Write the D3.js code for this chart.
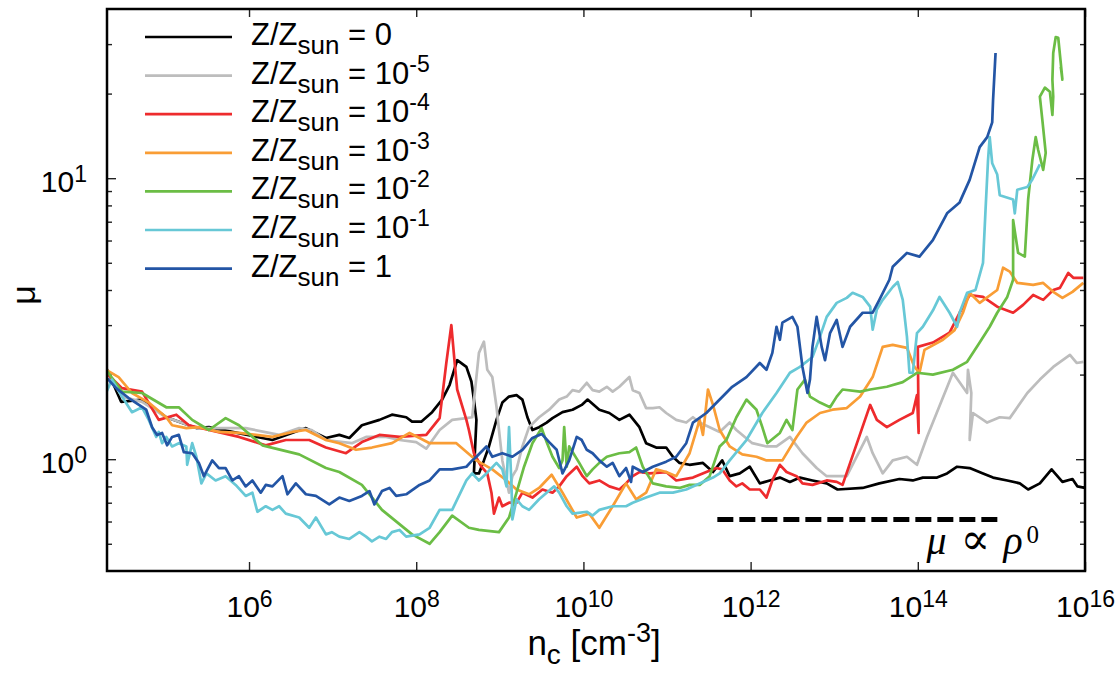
<!DOCTYPE html>
<html>
<head>
<meta charset="utf-8">
<script src="https://cdn.jsdelivr.net/npm/d3@7"></script>
<style>
body { margin: 0; background: #fff; }
text { font-family: "Liberation Sans", Arial, sans-serif; fill: #000; }
</style>
</head>
<body>
<script>
// points are [log10(n_c), mu]
var zSun0 = [[4.29,2.12],[4.47,1.60],[4.72,1.63],[5.01,1.41],[5.37,1.29],[5.52,1.30],[5.80,1.25],[6.28,1.17],[6.68,1.29],[6.92,1.19],[7.08,1.22],[7.20,1.19],[7.35,1.32],[7.56,1.38],[7.71,1.44],[7.88,1.41],[7.95,1.36],[8.06,1.36],[8.19,1.47],[8.31,1.63],[8.40,1.84],[8.49,2.25],[8.60,2.13],[8.66,1.89],[8.69,1.63],[8.72,1.38],[8.69,0.89],[8.75,0.89],[8.81,0.99],[8.87,1.11],[8.96,1.38],[9.03,1.59],[9.11,1.67],[9.20,1.69],[9.27,1.63],[9.33,1.41],[9.39,1.27],[9.47,1.30],[9.56,1.35],[9.63,1.40],[9.75,1.47],[9.87,1.50],[9.98,1.56],[10.05,1.63],[10.19,1.50],[10.31,1.46],[10.43,1.38],[10.55,1.44],[10.67,1.30],[10.75,1.14],[10.87,1.10],[10.99,1.10],[11.07,1.02],[11.15,0.97],[11.27,0.955],[11.43,0.97],[11.55,0.90],[11.66,0.99],[11.75,0.87],[11.87,0.89],[11.99,0.94],[12.11,0.82],[12.23,0.84],[12.35,0.86],[12.47,0.83],[12.59,0.86],[12.74,0.84],[12.91,0.82],[13.04,0.78],[13.34,0.79],[13.54,0.82],[13.78,0.85],[13.94,0.84],[14.06,0.86],[14.23,0.86],[14.35,0.89],[14.47,0.94],[14.62,0.93],[14.78,0.89],[14.90,0.86],[15.07,0.84],[15.22,0.82],[15.32,0.78],[15.46,0.82],[15.60,0.92],[15.73,0.83],[15.85,0.85],[15.91,0.80],[16.0,0.79]];

var zSun1e5 = [[4.29,2.08],[4.48,1.67],[4.72,1.60],[5.01,1.41],[5.37,1.29],[5.64,1.29],[5.96,1.29],[6.36,1.22],[6.60,1.29],[6.75,1.27],[6.92,1.17],[7.23,1.14],[7.40,1.20],[7.64,1.20],[7.80,1.17],[8.00,1.15],[8.12,1.09],[8.28,1.27],[8.43,1.38],[8.60,1.40],[8.67,1.41],[8.75,2.39],[8.81,2.62],[8.85,2.08],[8.91,1.96],[8.96,1.54],[8.99,1.27],[9.03,0.99],[9.08,0.84],[9.11,0.76],[9.15,0.87],[9.20,0.92],[9.27,1.11],[9.35,1.30],[9.47,1.41],[9.59,1.50],[9.71,1.63],[9.80,1.67],[9.87,1.76],[9.95,1.74],[10.04,1.87],[10.11,1.76],[10.19,1.74],[10.28,1.81],[10.35,1.74],[10.43,1.81],[10.55,1.96],[10.59,1.76],[10.67,1.72],[10.75,1.52],[10.83,1.52],[10.91,1.53],[10.99,1.46],[11.11,1.38],[11.23,1.35],[11.31,1.41],[11.39,1.35],[11.51,1.30],[11.63,1.25],[11.75,1.35],[11.83,1.27],[12.02,1.14],[12.19,1.11],[12.31,1.11],[12.47,1.20],[12.62,1.05],[12.79,0.93],[12.91,0.87],[13.15,0.87],[13.39,1.20],[13.46,1.05],[13.58,0.89],[13.70,0.99],[13.87,1.02],[13.99,0.955],[14.11,1.20],[14.42,2.03],[14.59,1.72],[14.60,2.08],[14.64,1.72],[14.62,1.17],[14.66,1.46],[14.83,1.35],[14.98,1.41],[15.10,1.40],[15.31,1.72],[15.46,1.92],[15.62,2.13],[15.82,2.35],[15.90,2.20],[15.98,2.22]];

var zSun1e4 = [[4.29,2.03],[4.48,1.79],[4.72,1.74],[4.92,1.38],[5.13,1.44],[5.28,1.32],[5.52,1.27],[5.88,1.20],[6.20,1.12],[6.44,1.17],[6.72,1.17],[6.92,1.10],[7.16,1.05],[7.35,1.15],[7.56,1.22],[7.80,1.20],[8.12,1.22],[8.28,1.40],[8.36,2.20],[8.42,3.0],[8.46,2.20],[8.49,1.77],[8.60,1.38],[8.63,1.27],[8.69,1.05],[8.78,0.94],[8.85,0.89],[8.90,0.76],[8.93,0.64],[8.99,0.73],[9.03,0.68],[9.11,0.70],[9.20,0.70],[9.27,0.76],[9.39,0.73],[9.51,0.78],[9.63,0.76],[9.71,0.80],[9.80,0.87],[9.92,0.94],[9.99,0.87],[10.07,0.82],[10.19,0.84],[10.31,0.80],[10.43,0.78],[10.51,0.82],[10.59,0.87],[10.67,0.90],[10.79,0.89],[10.99,0.90],[11.11,0.84],[11.31,0.86],[11.47,0.90],[11.59,0.93],[11.66,0.92],[11.75,0.84],[11.83,0.80],[11.90,0.82],[11.99,0.78],[12.11,0.78],[12.19,0.73],[12.26,0.84],[12.35,0.955],[12.43,0.90],[12.55,0.87],[12.62,0.82],[12.74,0.81],[12.91,0.84],[13.03,0.83],[13.10,0.81],[13.43,1.56],[13.51,1.38],[13.63,1.30],[13.78,1.38],[13.94,1.46],[13.99,1.69],[14.01,1.24],[14.00,2.51],[14.18,2.60],[14.38,2.82],[14.50,3.32],[14.62,3.84],[14.78,3.78],[14.95,3.49],[15.14,3.32],[15.26,3.54],[15.38,3.84],[15.50,3.69],[15.62,4.0],[15.70,4.07],[15.80,4.6],[15.86,4.42],[15.98,4.42]];

var zSun1e3 = [[4.29,2.08],[4.44,1.96],[4.60,1.72],[4.80,1.59],[5.01,1.41],[5.08,1.32],[5.25,1.29],[5.40,1.30],[5.64,1.25],[5.88,1.24],[6.28,1.20],[6.52,1.25],[6.68,1.27],[6.92,1.17],[7.08,1.14],[7.28,1.08],[7.47,1.10],[7.71,1.14],[7.92,1.24],[8.04,1.19],[8.16,1.14],[8.28,1.14],[8.48,1.14],[8.72,0.99],[8.91,0.92],[9.08,0.84],[9.20,0.78],[9.35,0.75],[9.47,0.79],[9.62,0.88],[9.75,0.76],[9.92,0.62],[10.07,0.64],[10.19,0.57],[10.35,0.68],[10.51,0.82],[10.63,0.72],[10.75,0.76],[10.87,0.92],[10.99,0.90],[11.11,0.87],[11.27,1.05],[11.39,1.38],[11.43,1.22],[11.49,1.77],[11.55,1.56],[11.63,1.27],[11.75,1.11],[11.90,1.04],[12.07,1.02],[12.19,0.99],[12.38,0.99],[12.55,1.20],[12.67,1.35],[12.83,1.46],[12.98,1.50],[13.15,1.52],[13.31,1.67],[13.46,1.96],[13.58,2.51],[13.70,2.55],[13.87,2.49],[13.96,2.13],[14.02,2.03],[14.08,2.45],[14.30,2.66],[14.44,2.88],[14.54,3.32],[14.62,3.91],[14.74,3.60],[14.95,4.0],[15.02,4.8],[15.10,4.65],[15.19,4.24],[15.38,4.17],[15.50,4.24],[15.62,3.94],[15.73,3.75],[15.85,3.94],[15.98,4.24]];

var zSun1e2 = [[4.29,2.08],[4.48,1.74],[4.72,1.72],[5.01,1.53],[5.16,1.53],[5.32,1.38],[5.52,1.27],[5.72,1.40],[5.88,1.32],[6.16,1.12],[6.60,1.04],[6.92,0.93],[7.08,0.90],[7.35,0.81],[7.59,0.66],[7.95,0.54],[8.16,0.50],[8.28,0.55],[8.43,0.63],[8.63,0.57],[8.75,0.56],[8.99,0.55],[9.11,0.62],[9.20,0.76],[9.29,0.94],[9.39,1.14],[9.50,1.29],[9.56,1.15],[9.63,1.02],[9.71,0.93],[9.75,0.99],[9.77,1.30],[9.80,0.94],[9.83,1.11],[9.95,0.97],[10.04,0.87],[10.11,0.92],[10.19,0.97],[10.28,1.02],[10.43,1.05],[10.55,1.06],[10.63,1.10],[10.71,0.94],[10.83,0.82],[10.99,0.80],[11.15,0.79],[11.27,0.81],[11.39,0.81],[11.51,0.87],[11.63,1.11],[11.71,1.17],[11.83,1.41],[11.95,1.63],[12.07,1.50],[12.14,1.30],[12.20,1.14],[12.35,1.24],[12.43,1.38],[12.50,1.27],[12.56,1.77],[12.65,1.92],[12.71,1.67],[12.83,1.59],[12.95,1.53],[13.03,1.67],[13.10,1.77],[13.31,1.74],[13.43,1.77],[13.63,1.81],[13.82,1.88],[13.99,2.03],[14.18,2.0],[14.42,2.08],[14.59,2.22],[14.74,2.60],[14.86,2.96],[14.95,3.32],[15.07,3.78],[15.14,4.35],[15.14,7.1],[15.20,5.42],[15.28,5.26],[15.32,8.4],[15.37,11.6],[15.41,14.0],[15.44,12.6],[15.50,10.7],[15.53,12.3],[15.49,16.1],[15.46,19.5],[15.52,21.0],[15.58,20.3],[15.61,16.8],[15.62,19.5],[15.61,22.4],[15.62,27.9],[15.65,31.8],[15.68,31.6],[15.71,25.7],[15.73,22.4],[15.71,24.9]];

var zSun1e1 = [[4.29,1.72],[4.36,1.92],[4.48,1.67],[4.60,1.47],[4.72,1.53],[4.80,1.38],[4.89,1.20],[4.92,1.25],[4.96,1.14],[5.01,1.20],[5.08,1.11],[5.16,1.14],[5.25,1.11],[5.26,0.955],[5.32,1.14],[5.37,1.02],[5.43,0.82],[5.49,0.89],[5.60,0.84],[5.72,0.87],[5.84,0.81],[5.96,0.74],[6.04,0.76],[6.10,0.65],[6.20,0.68],[6.28,0.66],[6.36,0.68],[6.44,0.64],[6.60,0.62],[6.72,0.57],[6.80,0.62],[6.92,0.54],[6.99,0.55],[7.08,0.53],[7.20,0.52],[7.32,0.55],[7.40,0.53],[7.47,0.51],[7.56,0.53],[7.64,0.52],[7.71,0.55],[7.80,0.56],[7.88,0.53],[8.04,0.54],[8.16,0.57],[8.28,0.66],[8.43,0.66],[8.60,0.84],[8.67,0.89],[8.75,0.84],[8.84,0.89],[8.96,0.97],[9.03,0.92],[9.08,0.80],[9.11,1.30],[9.14,0.80],[9.15,0.61],[9.20,0.72],[9.27,0.68],[9.35,0.66],[9.47,0.72],[9.56,0.76],[9.65,0.80],[9.71,0.76],[9.80,0.68],[9.87,0.64],[10.04,0.65],[10.11,0.63],[10.19,0.66],[10.35,0.68],[10.51,0.68],[10.59,0.70],[10.75,0.73],[10.91,0.76],[11.07,0.76],[11.23,0.78],[11.39,0.82],[11.55,0.86],[11.63,0.89],[11.75,0.99],[11.95,1.17],[12.14,1.46],[12.31,1.72],[12.47,2.03],[12.59,2.13],[12.74,2.31],[12.83,2.73],[12.91,3.21],[13.03,3.60],[13.15,3.75],[13.22,3.91],[13.34,3.78],[13.43,3.49],[13.46,2.89],[13.51,3.41],[13.58,3.69],[13.70,4.10],[13.76,4.27],[13.82,3.69],[13.87,2.73],[13.90,2.03],[13.94,2.03],[13.99,2.81],[14.06,2.96],[14.18,3.38],[14.26,3.78],[14.38,3.32],[14.47,2.96],[14.50,3.32],[14.59,3.91],[14.69,4.0],[14.78,5.0],[14.81,7.7],[14.84,11.6],[14.86,14.0],[14.89,11.3],[14.95,10.3],[14.98,8.7],[15.14,8.4],[15.16,7.5],[15.19,9.1],[15.31,9.3],[15.37,9.9],[15.46,11.2]];

var zSun1 = [[4.29,1.96],[4.41,1.79],[4.56,1.65],[4.77,1.50],[4.84,1.30],[4.90,1.22],[4.96,1.24],[5.02,1.12],[5.08,1.20],[5.16,1.22],[5.22,1.06],[5.32,1.05],[5.40,0.97],[5.46,0.87],[5.56,0.99],[5.64,0.93],[5.72,0.93],[5.80,0.84],[5.88,0.87],[5.96,0.80],[6.04,0.84],[6.14,0.76],[6.20,0.81],[6.28,0.80],[6.40,0.87],[6.46,0.75],[6.56,0.82],[6.68,0.75],[6.80,0.74],[6.96,0.69],[7.08,0.73],[7.20,0.71],[7.35,0.74],[7.44,0.77],[7.50,0.69],[7.59,0.77],[7.68,0.79],[7.76,0.74],[7.88,0.75],[8.04,0.81],[8.16,0.84],[8.28,0.92],[8.43,0.92],[8.60,0.94],[8.67,0.99],[8.72,1.02],[8.84,1.11],[8.91,1.02],[9.03,1.05],[9.15,1.02],[9.27,1.08],[9.39,1.19],[9.50,1.23],[9.59,1.15],[9.68,1.08],[9.75,0.89],[9.83,0.99],[9.92,1.20],[9.98,1.17],[10.04,1.08],[10.11,1.05],[10.19,0.99],[10.28,0.94],[10.35,0.97],[10.43,0.87],[10.51,0.93],[10.57,0.83],[10.59,0.94],[10.71,0.90],[10.83,0.94],[10.99,0.98],[11.11,1.02],[11.23,1.14],[11.31,1.35],[11.47,1.46],[11.63,1.63],[11.78,1.81],[11.95,1.96],[12.11,2.20],[12.19,2.08],[12.26,2.39],[12.31,2.96],[12.35,2.66],[12.38,3.06],[12.50,3.21],[12.56,2.96],[12.62,2.13],[12.68,1.72],[12.71,1.92],[12.74,2.51],[12.79,3.21],[12.85,2.51],[12.89,2.25],[12.95,2.81],[13.03,3.13],[13.10,2.51],[13.19,2.96],[13.34,3.32],[13.46,3.32],[13.54,3.69],[13.66,4.35],[13.70,4.84],[13.87,5.42],[14.02,5.26],[14.18,6.02],[14.35,7.5],[14.50,8.2],[14.62,9.86],[14.74,12.9],[14.83,14.0],[14.89,15.8],[14.90,18.9],[14.93,27.9]];

var seriesData = [zSun0, zSun1e5, zSun1e4, zSun1e3, zSun1e2, zSun1e1, zSun1];
var seriesExp = [null, "-5", "-4", "-3", "-2", "-1", null];   // superscript of 10
var seriesValue = ["0", "10", "10", "10", "10", "10", "1"];
var seriesColors = ["#000000", "#bdbdbd", "#ee2b2d", "#f99d35", "#6bbd45", "#67c8d6", "#2355a5"];

var xTickExp = [6, 8, 10, 12, 14, 16];
var yMajorExp = [0, 1];
var yMinor = [0.5, 0.6, 0.7, 0.8, 0.9, 2, 3, 4, 5, 6, 7, 8, 9, 20, 30];

// mu ∝ rho^0 guide
var refN = [4e11, 1e15];
var refMu = 0.61;

var margin = { top: 9, right: 33, bottom: 105, left: 107 },
    width = 1118 - margin.left - margin.right,
    height = 676 - margin.top - margin.bottom;

var svg = d3.select("body").append("svg")
    .attr("width", 1118)
    .attr("height", 676);

var g = svg.append("g")
    .attr("transform", "translate(" + margin.left + "," + margin.top + ")");

var x = d3.scaleLog().domain([2e4, 1e16]).range([0, width]);
var y = d3.scaleLog().domain([0.4, 40]).range([height, 0]);

g.append("clipPath").attr("id", "clip")
    .append("rect").attr("width", width).attr("height", height);

// label helper: "10" with a raised exponent
function powLabel(sel, exp, supSize) {
    sel.text(null);
    sel.append("tspan").text("10");
    sel.append("tspan").attr("dy", "-0.42em").attr("font-size", supSize).text(exp);
}

// x axis, ticks inward, plus mirrored ticks on top
var xAxis = d3.axisBottom(x)
    .tickValues(xTickExp.map(e => Math.pow(10, e)))
    .tickSize(-9).tickPadding(0);
var gx = g.append("g")
    .attr("transform", "translate(0," + height + ")")
    .call(xAxis);
gx.selectAll(".tick text")
    .attr("y", 46).attr("dy", null)
    .attr("font-size", 30)
    .attr("font-family", "Liberation Sans, Arial, sans-serif")
    .each(function (d, i) { powLabel(d3.select(this), xTickExp[i], 23); });

g.append("g")
    .call(d3.axisTop(x).tickValues(xTickExp.map(e => Math.pow(10, e))).tickSize(-8).tickFormat(""));

// y axis majors
var yAxis = d3.axisLeft(y)
    .tickValues(yMajorExp.map(e => Math.pow(10, e)))
    .tickSize(-9).tickPadding(20);
var gy = g.append("g").call(yAxis);
gy.selectAll(".tick text")
    .attr("dy", null).attr("y", 13)
    .attr("font-size", 30)
    .attr("font-family", "Liberation Sans, Arial, sans-serif")
    .each(function (d, i) { powLabel(d3.select(this), yMajorExp[i], 23); });

g.append("g").call(d3.axisLeft(y).tickValues(yMinor).tickSize(-5).tickFormat(""));
g.append("g").attr("transform", "translate(" + width + ",0)")
    .call(d3.axisRight(y).tickValues(yMajorExp.map(e => Math.pow(10, e))).tickSize(-9).tickFormat(""));
g.append("g").attr("transform", "translate(" + width + ",0)")
    .call(d3.axisRight(y).tickValues(yMinor).tickSize(-5).tickFormat(""));

g.selectAll(".domain").remove();
g.selectAll(".tick line").attr("stroke", "#222").attr("stroke-width", 1.4);

// curves
var line = d3.line()
    .x(d => x(Math.pow(10, d[0])))
    .y(d => y(d[1]));

var curves = g.append("g").attr("clip-path", "url(#clip)");
curves.selectAll(".curve")
    .data(seriesData)
    .enter().append("path")
    .attr("class", "curve")
    .attr("fill", "none")
    .attr("stroke", (d, i) => seriesColors[i])
    .attr("stroke-width", 2.7)
    .attr("stroke-linejoin", "round")
    .attr("d", line);

// reference line
g.append("line")
    .attr("x1", x(refN[0])).attr("x2", x(refN[1]))
    .attr("y1", y(refMu)).attr("y2", y(refMu))
    .attr("stroke", "#000").attr("stroke-width", 5)
    .attr("stroke-dasharray", "16,6");

var ax = x(refN[1]), ay = y(refMu) + 34;
var ann = g.append("text").attr("y", ay);
ann.append("tspan").attr("x", ax - 75)
    .attr("font-family", "Liberation Serif, serif").attr("font-style", "italic")
    .attr("font-size", 40).text("μ");
ann.append("tspan").attr("x", ax - 41)
    .attr("font-family", "DejaVu Serif, serif")
    .attr("font-size", 44).text("∝");
ann.append("tspan").attr("x", ax + 2)
    .attr("font-family", "Liberation Serif, serif").attr("font-style", "italic")
    .attr("font-size", 40).text("ρ");
ann.append("tspan").attr("x", ax + 25).attr("dy", -11)
    .attr("font-family", "Liberation Serif, serif")
    .attr("font-size", 25).text("0");

// frame
g.append("rect")
    .attr("width", width).attr("height", height)
    .attr("fill", "none").attr("stroke", "#000").attr("stroke-width", 2.5);

// axis titles
var xt = svg.append("text")
    .attr("x", margin.left + width * 0.498)
    .attr("y", 655)
    .attr("text-anchor", "middle")
    .attr("font-size", 35);
xt.append("tspan").text("n");
xt.append("tspan").attr("dy", 9).attr("font-size", 28).text("c");
xt.append("tspan").attr("dy", -9).text(" [cm");
xt.append("tspan").attr("dy", -13).attr("font-size", 27).text("-3");
xt.append("tspan").attr("dy", 13).text("]");

svg.append("text")
    .attr("transform", "translate(35,295) rotate(-90)")
    .attr("text-anchor", "middle")
    .attr("font-size", 34)
    .text("μ");

// legend
var legend = svg.append("g").attr("transform", "translate(145,37)");
var rows = legend.selectAll(".row")
    .data(seriesData)
    .enter().append("g")
    .attr("class", "row")
    .attr("transform", (d, i) => "translate(0," + (i * 38.6) + ")");
rows.append("line")
    .attr("x1", 0).attr("x2", 87)
    .attr("stroke", (d, i) => seriesColors[i])
    .attr("stroke-width", 2.7);
rows.append("text")
    .attr("x", 106).attr("y", 8)
    .attr("font-size", 31)
    .each(function (d, i) {
        var t = d3.select(this);
        t.append("tspan").text("Z/Z");
        t.append("tspan").attr("dy", 9).attr("font-size", 26).text("sun");
        t.append("tspan").attr("dy", -9).text(" = " + seriesValue[i]);
        if (seriesExp[i]) t.append("tspan").attr("dy", -12).attr("font-size", 23).text(seriesExp[i]);
    });
</script>
</body>
</html>
